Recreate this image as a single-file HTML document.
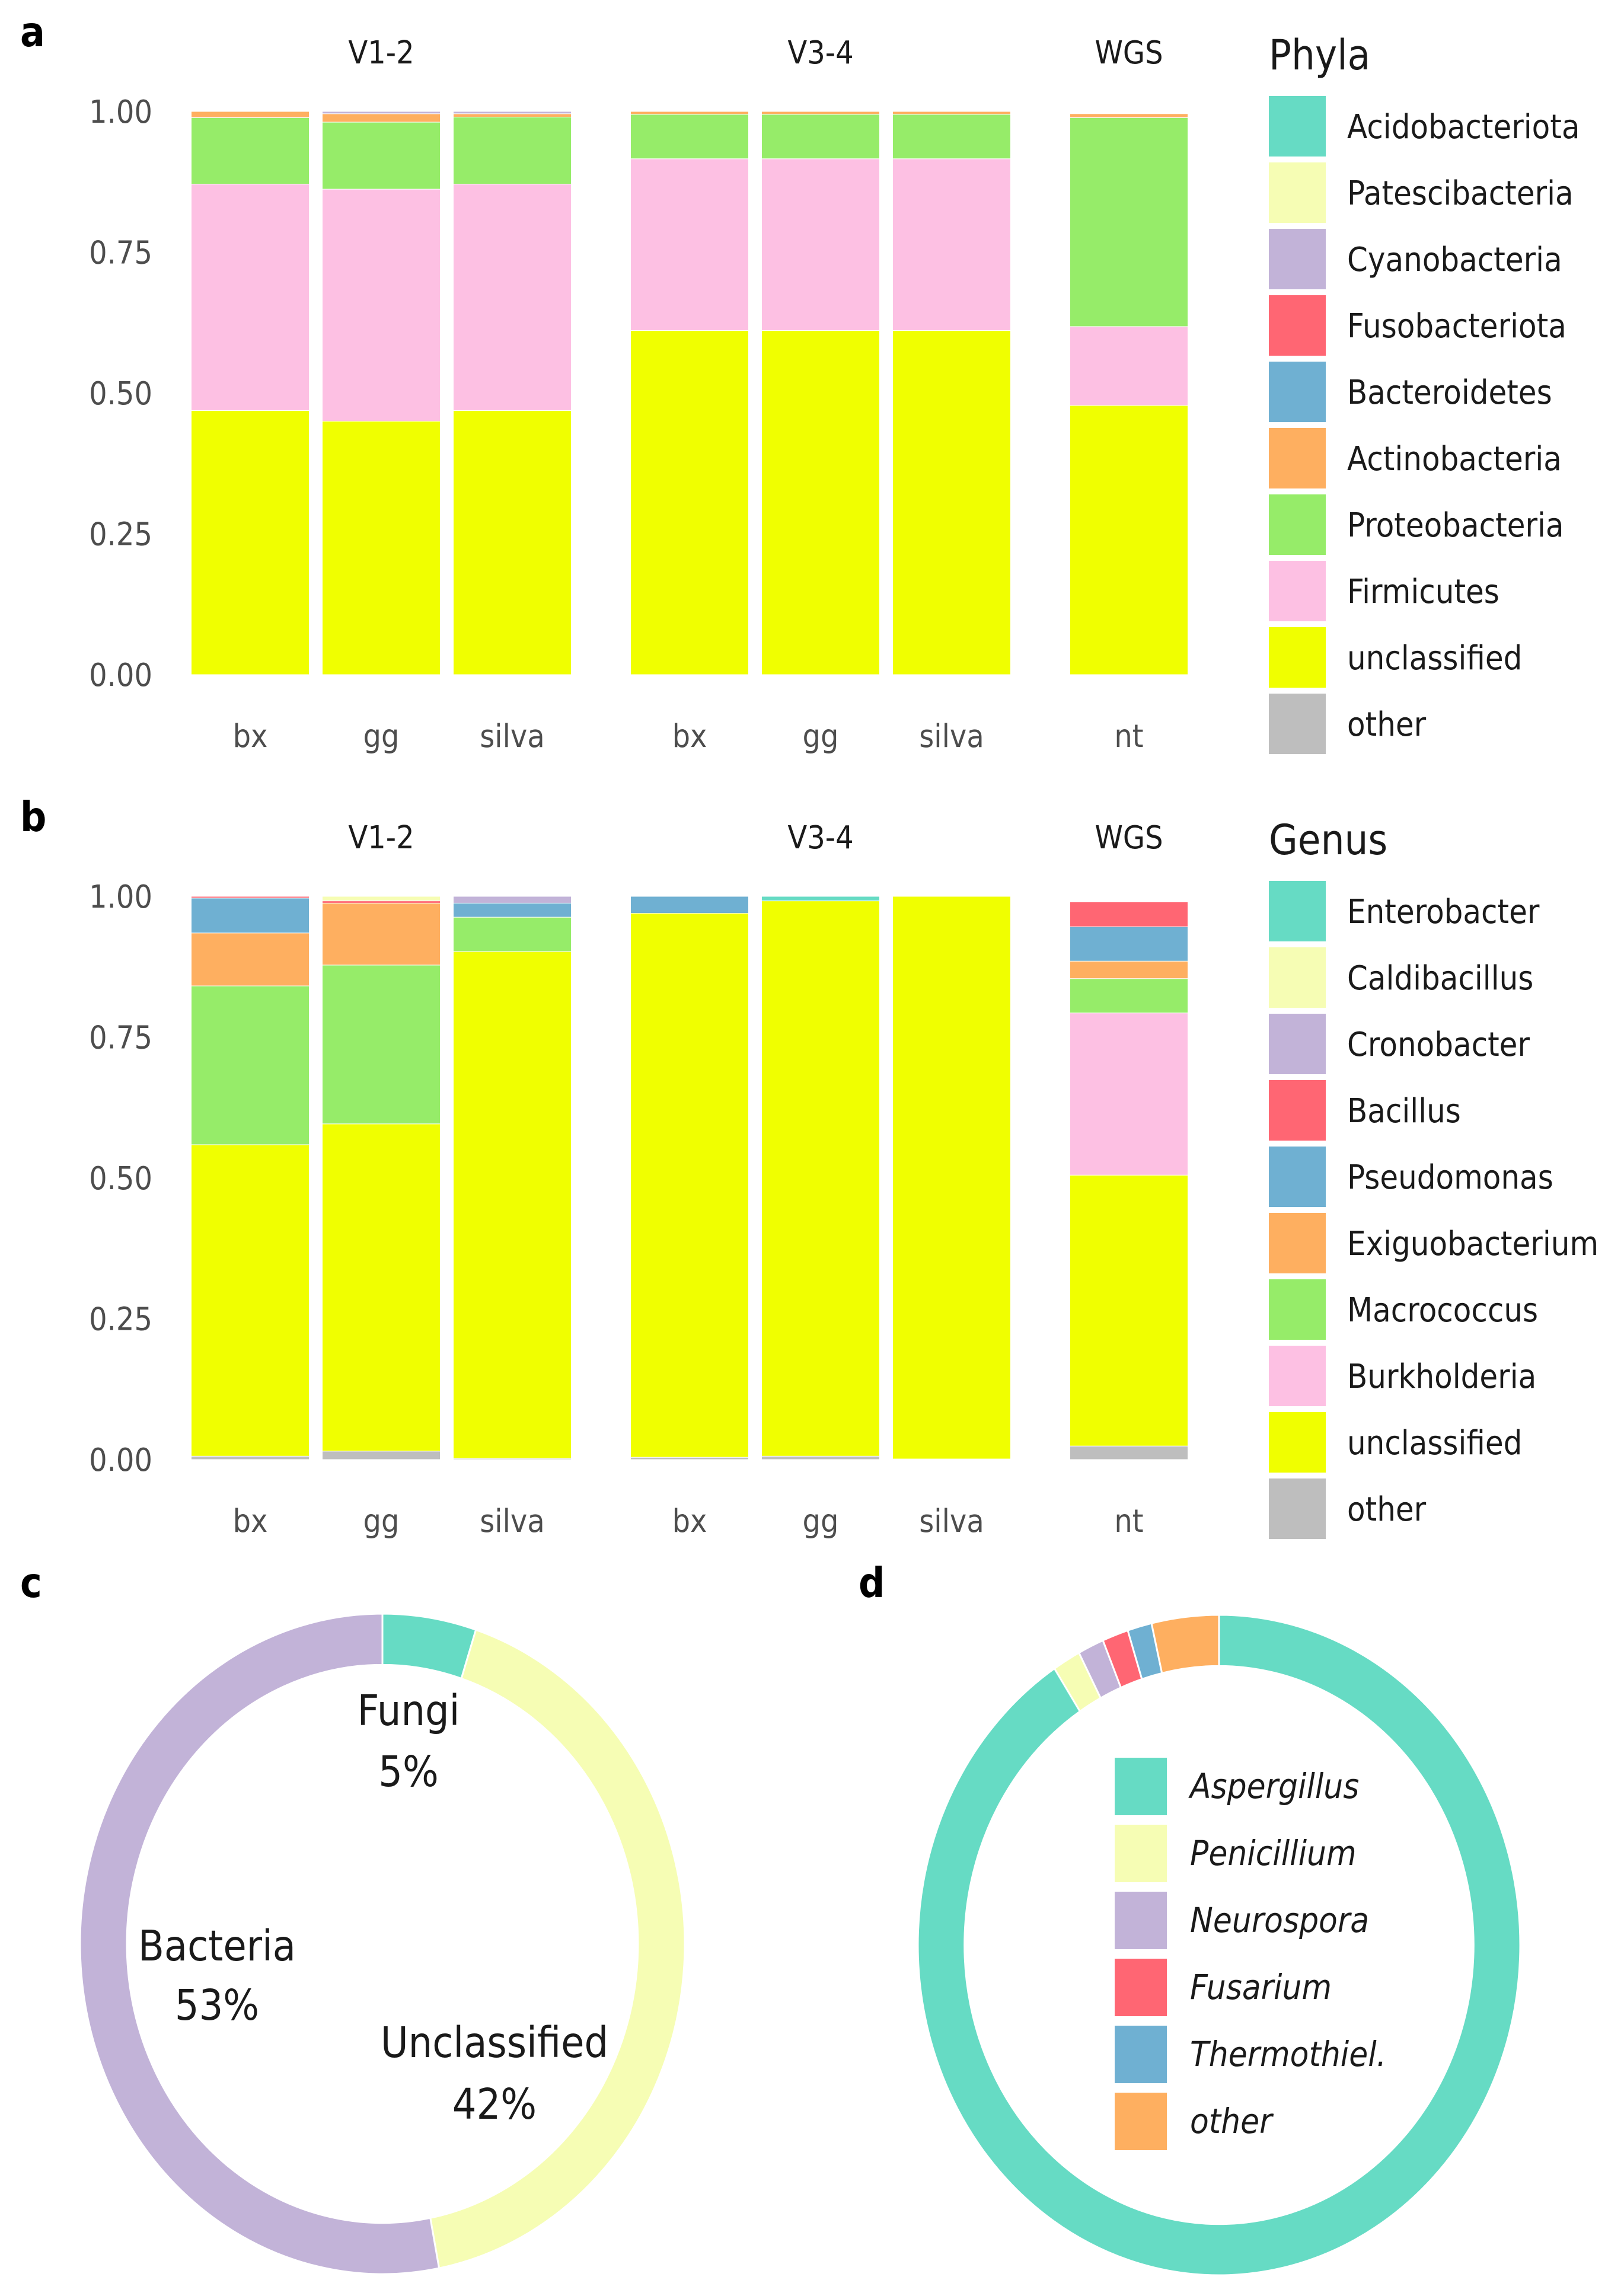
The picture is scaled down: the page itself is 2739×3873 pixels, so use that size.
<!DOCTYPE html>
<html><head><meta charset="utf-8">
<style>
html,body{margin:0;padding:0;background:#fff;}
svg{display:block;}
text{font-family:"DejaVu Sans","Liberation Sans",sans-serif;}
</style></head>
<body>
<svg id="fig" width="2739" height="3873" viewBox="0 0 2739 3873" xmlns="http://www.w3.org/2000/svg"></svg>
<script>
// ---------- data ----------
const barLabels = ["bx","gg","silva","bx","gg","silva","nt"];
const stripLabels = ["V1-2","V3-4","WGS"];
const yTicks = [0, 0.25, 0.5, 0.75, 1.0];
const yTickLabels = ["0.00","0.25","0.50","0.75","1.00"];

const phylaNames = ["Acidobacteriota","Patescibacteria","Cyanobacteria","Fusobacteriota","Bacteroidetes","Actinobacteria","Proteobacteria","Firmicutes","unclassified","other"];
// stacked values per bar (bottom-to-top order: other, unclassified, Firmicutes, Proteobacteria, Actinobacteria, Bacteroidetes, Fusobacteriota, Cyanobacteria, Patescibacteria, Acidobacteriota)
const phylaOther          = [0,0,0,0,0,0,0];
const phylaUnclassified   = [0.469,0.450,0.469,0.611,0.611,0.611,0.478];
const phylaFirmicutes     = [0.402,0.412,0.402,0.305,0.305,0.305,0.140];
const phylaProteobacteria = [0.118,0.119,0.119,0.079,0.079,0.079,0.371];
const phylaActinobacteria = [0.011,0.015,0.006,0.005,0.005,0.005,0.007];
const phylaBacteroidetes  = [0,0,0,0,0,0,0];
const phylaFuso           = [0,0,0,0,0,0,0];
const phylaCyano          = [0,0.004,0.004,0,0,0,0];
const phylaPatesci        = [0,0,0,0,0,0,0];
const phylaAcido          = [0,0,0,0,0,0,0];

const genusNames = ["Enterobacter","Caldibacillus","Cronobacter","Bacillus","Pseudomonas","Exiguobacterium","Macrococcus","Burkholderia","unclassified","other"];
const genusOther        = [0.006,0.015,0.002,0.004,0.006,0.001,0.024];
const genusUnclassified = [0.553,0.581,0.900,0.966,0.986,0.999,0.481];
const genusBurkholderia = [0,0,0,0,0,0,0.288];
const genusMacrococcus  = [0.282,0.282,0.061,0,0,0,0.061];
const genusExiguo       = [0.094,0.110,0,0,0,0,0.031];
const genusPseudomonas  = [0.062,0,0.025,0.030,0,0,0.061];
const genusBacillus     = [0.003,0.004,0,0,0,0,0.044];
const genusCrono        = [0,0,0.012,0,0,0,0];
const genusCaldi        = [0,0.008,0,0,0,0,0];
const genusEntero       = [0,0,0,0,0.008,0,0];

const kingdomNames = ["Fungi","Unclassified","Bacteria"];
const kingdomValues = [0.05,0.42,0.53];
const kingdomLabels = ["5%","42%","53%"];

const fungiNames = ["Aspergillus","Penicillium","Neurospora","Fusarium","Thermothiel.","other"];
const fungiValues = [0.908,0.015,0.014,0.014,0.013,0.036];

const palette = ["#66dbc4","#f6fdb4","#c2b3d8","#ff6673","#6fb0d2","#feaf60","#96ec69","#fdc0e3","#f0ff00","#bebebe"];

// ---------- helpers ----------
const NS = "http://www.w3.org/2000/svg";
const svg = document.getElementById("fig");
function el(tag, attrs, parent){
  const e = document.createElementNS(NS, tag);
  for (const k in attrs) e.setAttribute(k, attrs[k]);
  (parent||svg).appendChild(e);
  return e;
}
function txt(str, x, y, size, opts, parent){
  opts = opts||{};
  const t = el("text", {transform:`translate(${x},${y}) scale(1,1.12)`, "font-size":size,
    fill: opts.fill||"#1a1a1a", "text-anchor": opts.anchor||"start"}, parent);
  if (opts.italic) t.setAttribute("font-style","italic");
  if (opts.bold) t.setAttribute("font-weight","bold");
  t.textContent = str;
  return t;
}

const barCenters = [422,643,864,1163,1384,1605,1904];
const barW = 199;
const stripX = [643,1384,1904];

function barPanel(panelName, y1, y0, stackSeries, legendNames, legendTitle, legTop, titleBase, stripBase, xlabBase){
  const g = el("g", {});
  
  
  const yScale = v => y0 - v*(y0-y1);
  // ticks
  yTicks.forEach((v,i)=>{
    const t = txt(yTickLabels[i], 257, yScale(v)+19, 48, {fill:"#4d4d4d", anchor:"end"}, g);
    
    
  });
  // strips
  stripLabels.forEach((s,i)=>{
    const t = txt(s, stripX[i], stripBase, 48, {fill:"#1a1a1a", anchor:"middle"}, g);
    
    
  });
  // bars
  barLabels.forEach((lab,j)=>{
    let cum = 0;
    stackSeries.forEach(s=>{
      const v = s.values[j];
      if (v <= 0) return;
      const top = yScale(cum+v), bot = yScale(cum);
      const r = el("rect", {x: barCenters[j]-barW/2, y: top, width: barW, height: Math.max(bot-top,0.5),
        fill: palette[s.color], stroke:"#ffffff", "stroke-width":1}, g);
      
      
      cum += v;
    });
    const t = txt(lab, barCenters[j], xlabBase, 48, {fill:"#4d4d4d", anchor:"middle"}, g);
    
    
  });
  // legend
  const lg = el("g", {}, g);
  
  
  const tt = txt(legendTitle, 2140, titleBase, 63, {}, lg);
  
  
  legendNames.forEach((n,i)=>{
    const top = legTop + i*112;
    const k = el("rect", {x:2140, y:top, width:96, height:102, fill:palette[i]}, lg);
    
    
    const t = txt(n, 2272, top+71, 50, {}, lg);
    
    
  });
}

// panel letters
[["a",34,78],["b",34,1402],["c",34,2694],["d",1448,2694]].forEach(p=>{
  const t = txt(p[0], p[1], p[2], 62, {bold:true, fill:"#000"});
  
  
});

barPanel("phyla-bar-chart", 188, 1138, [
  {values:phylaOther,color:9},{values:phylaUnclassified,color:8},{values:phylaFirmicutes,color:7},
  {values:phylaProteobacteria,color:6},{values:phylaActinobacteria,color:5},{values:phylaBacteroidetes,color:4},
  {values:phylaFuso,color:3},{values:phylaCyano,color:2},{values:phylaPatesci,color:1},{values:phylaAcido,color:0}
], phylaNames, "Phyla", 162, 117, 107, 1260);

barPanel("genus-bar-chart", 1512, 2462, [
  {values:genusOther,color:9},{values:genusUnclassified,color:8},{values:genusBurkholderia,color:7},
  {values:genusMacrococcus,color:6},{values:genusExiguo,color:5},{values:genusPseudomonas,color:4},
  {values:genusBacillus,color:3},{values:genusCrono,color:2},{values:genusCaldi,color:1},{values:genusEntero,color:0}
], genusNames, "Genus", 1486, 1441, 1431, 2584);

// ---------- donuts ----------
function donut(name, cx, cy, rx, ry, values, colors){
  const g = el("g", {transform:`translate(${cx},${cy}) scale(${rx},${ry})`});
  
  
  const rIn = 0.845;
  let cum = 0;
  values.forEach((v,i)=>{
    const a0 = cum*2*Math.PI, a1 = (cum+v)*2*Math.PI;
    cum += v;
    const p = (a,r)=>[(r*Math.sin(a)).toFixed(5), (-r*Math.cos(a)).toFixed(5)];
    const large = (a1-a0) > Math.PI ? 1 : 0;
    const [x0,y0o]=p(a0,1),[x1,y1o]=p(a1,1),[x2,y2]=p(a1,rIn),[x3,y3]=p(a0,rIn);
    const d = `M${x0},${y0o} A1,1 0 ${large} 1 ${x1},${y1o} L${x2},${y2} A${rIn},${rIn} 0 ${large} 0 ${x3},${y3} Z`;
    const s = el("path", {d, fill:colors[i], stroke:"#fff", "stroke-width":3, "vector-effect":"non-scaling-stroke"}, g);
    
    
  });
}
donut("kingdom-donut", 645, 3279, 510, 557, kingdomValues, [palette[0], palette[1], palette[2]]);
donut("fungi-donut", 2056, 3281, 508, 557, fungiValues, [palette[0], palette[1], palette[2], palette[3], palette[4], palette[5]]);

const kingdomPos = [[689,2910,3013],[834,3470,3574],[366,3307,3407]];
kingdomNames.forEach((n,i)=>{
  const t1 = txt(n, kingdomPos[i][0], kingdomPos[i][1], 64, {anchor:"middle"});
  
  
  const t2 = txt(kingdomLabels[i], kingdomPos[i][0], kingdomPos[i][2], 64, {anchor:"middle"});
  
  
});

const fl = el("g", {});


fungiNames.forEach((n,i)=>{
  const top = 2965 + i*113;
  const k = el("rect", {x:1880, y:top, width:88, height:97, fill:palette[i]}, fl);
  
  
  const t = txt(n, 2007, top+68, 52, {italic:true}, fl);
  
  
});
</script>
</body></html>
